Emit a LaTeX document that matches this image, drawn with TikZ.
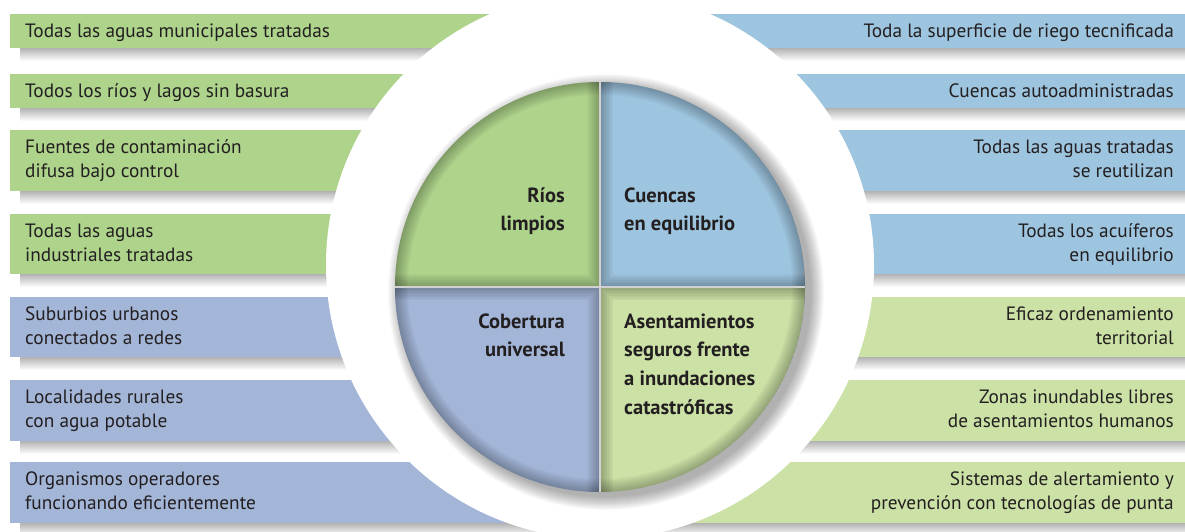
\documentclass[tikz,border=0pt]{standalone}
\usepackage{fontspec}
\setmainfont{PT Sans}
\definecolor{lgreen}{HTML}{AED48C}
\definecolor{rblue}{HTML}{9EC5DF}
\definecolor{lblue}{HTML}{A3B6D8}
\definecolor{rgreen}{HTML}{CBE1A6}
\definecolor{txt}{HTML}{231F20}
\tikzset{
  bartext/.style={inner sep=0pt, text=txt, font=\fontsize{19.3}{24}\selectfont},
  lt/.style={bartext, align=left, anchor=base west},
  rt/.style={bartext, align=right, anchor=base east},
  pielabel/.style={inner sep=0pt, text=txt, font=\bfseries\fontsize{20.5}{28.7}\selectfont},
}
\newcommand\myquad[3]{%
  \begin{scope}
    \clip (600,287) circle[radius=205pt];
    \clip (600,287) rectangle (#2,#3);
    \fill[#1] (600,287) circle[radius=205pt];
    \foreach \w in {2,5,...,26} {
      \draw[black, opacity=0.03, line width=\w pt] (600,287) circle[radius=205pt];
      \draw[black, opacity=0.03, line width=\w pt] (600,60) -- (600,520) (370,287) -- (830,287);
    }
  \end{scope}}
\begin{document}
\begin{tikzpicture}[x=1pt,y=-1pt]
\useasboundingbox (0,0) rectangle (1185,531);
\fill[white] (0,0) rectangle (1185,531);
% bar shadows
\foreach \t/\b in {14/48,74/108,130/191,214/274,297/357,380/441,462/523}{
  \shade[top color=black!30, bottom color=white] (20,\b) rectangle (600,\b+13);
  \shade[top color=black!30, bottom color=white] (600,\b) rectangle (1185,\b+13);
}
% bars
\foreach \t/\b in {14/48,74/108,130/191,214/274}{
  \fill[lgreen] (10,\t) rectangle (600,\b);
  \fill[rblue] (600,\t) rectangle (1185,\b);
}
\foreach \t/\b in {297/357,380/441,462/523}{
  \fill[lblue] (10,\t) rectangle (600,\b);
  \fill[rgreen] (600,\t) rectangle (1185,\b);
}
% white disc
\fill[white] (600,265) circle[radius=274pt];
% pie shadow
\foreach \i in {0,...,13}{
  \fill[black, opacity=0.025] (606,292) circle[radius=205pt+\i pt];
}
% quadrants
\myquad{lgreen}{380}{70}
\myquad{rblue}{820}{70}
\myquad{lblue}{380}{500}
\myquad{rgreen}{820}{500}
\draw[black!18, line width=1.2pt] (600,82) -- (600,492) (395,287) -- (805,287);
% left texts (anchor at baseline of last line)
\node[lt] (l1) at (25,37) {Todas las aguas municipales tratadas};
\node[lt] (l2) at (25,97) {Todos los ríos y lagos sin basura};
\node[lt] (l3) at (25,177) {Fuentes de contaminación\\difusa bajo control};
\node[lt] (l4) at (25,261) {Todas las aguas\\industriales tratadas};
\node[lt] (l5) at (25,344) {Suburbios urbanos\\conectados a redes};
\node[lt] (l6) at (25,427) {Localidades rurales\\con agua potable};
\node[lt] (l7) at (25,509) {Organismos operadores\\funcionando eficientemente};
% right texts
\node[rt] (r1) at (1174,37) {Toda la superficie de riego tecnificada};
\node[rt] (r2) at (1174,97) {Cuencas autoadministradas};
\node[rt] (r3) at (1174,177) {Todas las aguas tratadas\\se reutilizan};
\node[rt] (r4) at (1174,261) {Todas los acuíferos\\en equilibrio};
\node[rt] (r5) at (1174,344) {Eficaz ordenamiento\\territorial};
\node[rt] (r6) at (1174,427) {Zonas inundables libres\\de asentamientos humanos};
\node[rt] (r7) at (1174,509) {Sistemas de alertamiento y\\prevención con tecnologías de punta};
% pie labels
\node[pielabel, align=right, anchor=base east] (q1) at (565,230.7) {Ríos\\limpios};
\node[pielabel, align=left, anchor=base west] (q2) at (624,230.7) {Cuencas\\en equilibrio};
\node[pielabel, align=right, anchor=base east] (q3) at (565,356.7) {Cobertura\\universal};
\node[pielabel, align=left, anchor=base west] (q4) at (624,414.1) {Asentamientos\\seguros frente\\a inundaciones\\catastróficas};
\end{tikzpicture}
\end{document}
